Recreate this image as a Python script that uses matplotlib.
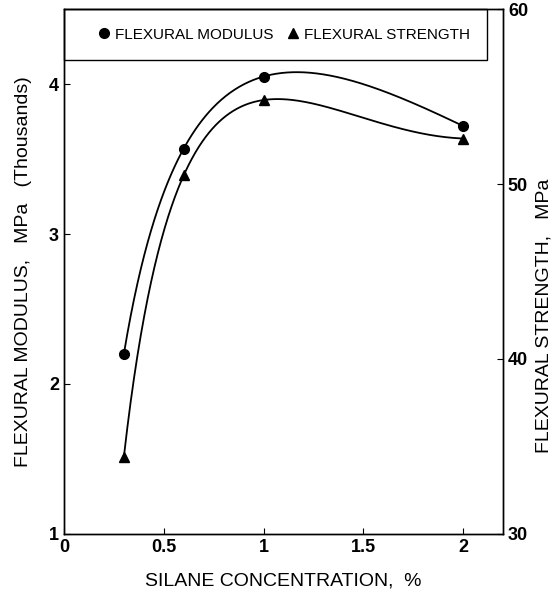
import numpy as np
import matplotlib.pyplot as plt
from matplotlib.patches import Rectangle

plt.rcParams['font.family'] = ['Liberation Sans', 'DejaVu Sans']

# silane concentration, %
silane = [0.3, 0.6, 1.0, 2.0]
# flexural modulus, MPa (thousands)
modulus = [2.2, 3.57, 4.05, 3.72]
# flexural strength, MPa
strength = [34.4, 50.5, 54.8, 52.6]


def smooth(x, y):
    # curve through the four measured points (basis 1, x, x^2, ln x)
    x = np.asarray(x, float)
    A = np.column_stack([np.ones_like(x), x, x**2, np.log(x)])
    c = np.linalg.solve(A, np.asarray(y, float))
    xs = np.linspace(x.min(), x.max(), 300)
    return xs, c[0] + c[1]*xs + c[2]*xs**2 + c[3]*np.log(xs)


fig = plt.figure(figsize=(5.53, 6.02), dpi=100)
ax = fig.add_axes([0.1157, 0.113, 0.794, 0.872])
ax2 = ax.twinx()

xs, ys = smooth(silane, modulus)
ax.plot(xs, ys, color='black', lw=1.3)
l1, = ax.plot(silane, modulus, 'o', color='black', ms=7,
              label='FLEXURAL MODULUS')

xs, ys = smooth(silane, strength)
ax2.plot(xs, ys, color='black', lw=1.3)
l2, = ax2.plot(silane, strength, '^', color='black', ms=7,
               label='FLEXURAL STRENGTH')

ax.set_xlim(0, 2.2)
ax.set_ylim(1, 4.5)
ax2.set_ylim(30, 60)
ax.set_xticks([0, 0.5, 1, 1.5, 2])
ax.set_xticklabels(['0', '0.5', '1', '1.5', '2'])
ax.set_yticks([1, 2, 3, 4])
ax2.set_yticks([30, 40, 50, 60])

for a in (ax, ax2):
    a.tick_params(direction='in', length=4, width=0.8, labelsize=13)
    for lab in a.get_xticklabels() + a.get_yticklabels():
        lab.set_fontweight('bold')
    for s in a.spines.values():
        s.set_linewidth(1.0)

ax.set_xlabel('SILANE CONCENTRATION,  %', fontsize=14, labelpad=12)
ax.set_ylabel('FLEXURAL MODULUS,   MPa   (Thousands)', fontsize=14,
              labelpad=12)
ax2.set_ylabel('FLEXURAL STRENGTH,   MPa', fontsize=14)
ax2.yaxis.set_label_coords(1.075, 0.415)

# legend box
ax2.add_patch(Rectangle((0, 0.903), 0.9636, 0.097, transform=ax2.transAxes,
                        fill=False, edgecolor='black', lw=1.0, clip_on=False))
ax2.legend(handles=[l1, l2], loc='center', ncol=2,
           bbox_to_anchor=(0.501, 0.951), borderaxespad=0, borderpad=0,
           fontsize=11, handlelength=0.8, handletextpad=0.3,
           columnspacing=0.9, frameon=False)

fig.savefig('out.png', dpi=100)
